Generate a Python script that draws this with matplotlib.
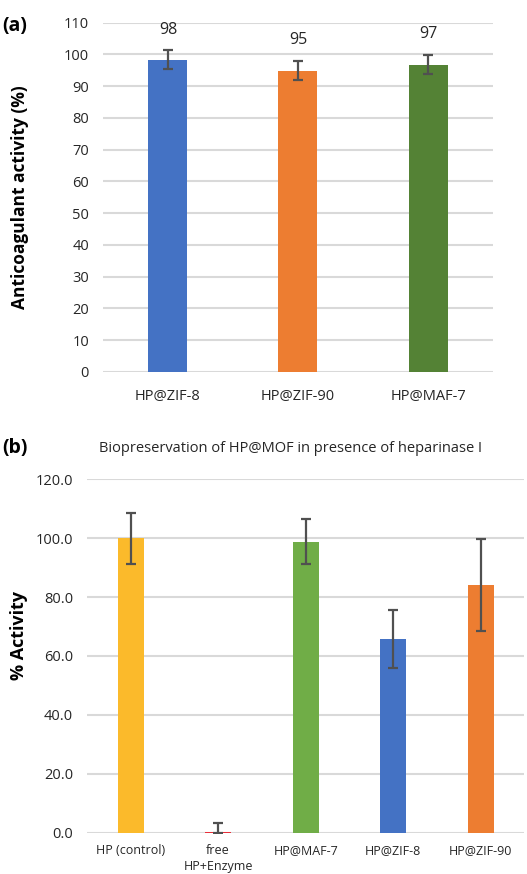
"""
Anticoagulant activity and biopreservation of HP@MOF (two panels)
"""

### Import modules
import numpy as np
import matplotlib.pyplot as plt

### Data
labels_a = ['HP@ZIF-8', 'HP@ZIF-90', 'HP@MAF-7']
values_a = [98.3, 94.9, 96.8]
errors_a = [3.0, 3.0, 3.0]
text_a = ['98', '95', '97']
colors_a = ['#4472C4', '#ED7D31', '#548235']

labels_b = ['HP (control)', 'free\nHP+Enzyme', 'HP@MAF-7', 'HP@ZIF-8', 'HP@ZIF-90']
values_b = [100.0, 0.3, 98.8, 65.8, 84.1]
errors_b = [8.7, 2.9, 7.7, 9.9, 15.7]
colors_b = ['#FBBA2B', '#E8303A', '#70AD47', '#4472C4', '#ED7D31']

plt.rcParams['font.family'] = ['Open Sans', 'DejaVu Sans']
gridc = '#D9D9D9'
errc = '#505050'

fig = plt.figure(figsize=(5.27, 8.74), dpi=100)

###########################################################################
### Panel (a)
ax = fig.add_axes([0.1954, 0.5744, 0.7401, 0.3996])
x = np.arange(len(labels_a))
ax.bar(x, values_a, width=0.3, color=colors_a, zorder=3)
ax.errorbar(x, values_a, yerr=errors_a, fmt='none', ecolor=errc,
            elinewidth=1.6, capsize=3.5, capthick=1.6, zorder=4)
for i in range(len(x)):
    ax.text(x[i], values_a[i] + errors_a[i] + 4.0, text_a[i], ha='center',
            va='bottom', fontsize=11.5, color='#262626')
ax.set_xlim(-0.5, 2.5)
ax.set_ylim(0, 110)
ax.set_yticks(np.arange(0, 111, 10))
ax.set_xticks(x)
ax.set_xticklabels(labels_a, fontsize=10.5, color='#262626')
ax.tick_params(axis='y', labelsize=10.5, colors='#262626', length=0, pad=10)
ax.tick_params(axis='x', length=0, pad=12)
ax.grid(axis='y', color=gridc, linewidth=1.5, zorder=0)
for s in ax.spines.values():
    s.set_visible(False)
ax.set_ylabel('Anticoagulant activity (%)', fontsize=12.5, fontweight='bold')
ax.yaxis.set_label_coords(-0.19, 0.5)
fig.text(0.005, 0.965, '(a)', fontsize=14, fontweight='bold')

###########################################################################
### Panel (b)
bx = fig.add_axes([0.165, 0.0473, 0.830, 0.4043])
x = np.arange(len(labels_b))
bx.bar(x, values_b, width=0.3, color=colors_b, zorder=3)
bx.errorbar(x, values_b, yerr=[[min(v, e) for v, e in zip(values_b, errors_b)], errors_b],
            fmt='none', ecolor=errc, elinewidth=1.6, capsize=3.5, capthick=1.6, zorder=4)
bx.set_xlim(-0.5, 4.5)
bx.set_ylim(0, 120)
bx.set_yticks(np.arange(0, 121, 20))
bx.set_yticklabels(['%.1f' % v for v in np.arange(0, 121, 20)])
bx.set_xticks(x)
bx.set_xticklabels(labels_b, fontsize=9, color='#262626', linespacing=1.3)
bx.tick_params(axis='y', labelsize=10.5, colors='#262626', length=0, pad=10)
bx.tick_params(axis='x', length=0, pad=8)
bx.grid(axis='y', color=gridc, linewidth=1.5, zorder=0)
for s in bx.spines.values():
    s.set_visible(False)
bx.set_ylabel('% Activity', fontsize=13, fontweight='bold')
bx.yaxis.set_label_coords(-0.135, 0.557)
bx.set_title('Biopreservation of HP@MOF in presence of heparinase I',
             fontsize=10.5, color='#262626', pad=20, x=0.465)
fig.text(0.005, 0.482, '(b)', fontsize=14, fontweight='bold')

plt.savefig('out.png', dpi=100)
